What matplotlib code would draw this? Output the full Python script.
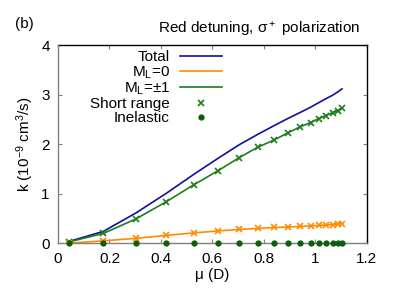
import matplotlib
matplotlib.use("Agg")
import matplotlib.pyplot as plt

plt.rcParams['font.family'] = ['Liberation Sans', 'DejaVu Sans']
plt.rcParams['mathtext.fontset'] = 'custom'
plt.rcParams['mathtext.rm'] = 'Liberation Sans'
plt.rcParams['mathtext.it'] = 'Liberation Sans:italic'
plt.rcParams['font.size'] = 11

# dipole moment (D)
mu = [0.044, 0.176, 0.302, 0.421, 0.527, 0.623, 0.704, 0.776, 0.841,
      0.893, 0.940, 0.982, 1.013, 1.041, 1.067, 1.088, 1.104]
total = [0.04, 0.24, 0.61, 1.01, 1.39, 1.72, 1.99, 2.20, 2.38,
         2.52, 2.64, 2.75, 2.84, 2.92, 2.99, 3.06, 3.12]
ml_pm1 = [0.03, 0.20, 0.49, 0.84, 1.18, 1.47, 1.73, 1.94, 2.09,
          2.23, 2.35, 2.44, 2.52, 2.58, 2.64, 2.68, 2.73]
ml_0 = [0.005, 0.05, 0.10, 0.16, 0.21, 0.25, 0.28, 0.30, 0.32,
        0.33, 0.34, 0.35, 0.36, 0.37, 0.38, 0.39, 0.40]
inelastic = [0.0] * len(mu)

blue = '#10109a'
orange = '#ff8c00'
green = '#1e7d1e'
dkgreen = '#0b5e0b'

fig = plt.figure(figsize=(3.95, 2.94), dpi=100)
ax = fig.add_axes([0.1468, 0.1724, 0.7816, 0.6735])

ax.plot(mu, total, color=blue, lw=1.2, label='Total')
ax.plot(mu, ml_0, color=orange, lw=1.2, label='M$_\\mathregular{L}$=0')
ax.plot(mu, ml_pm1, color=green, lw=1.2, label='M$_\\mathregular{L}$=±1')
ax.plot(mu, ml_pm1, ls='none', marker='x', ms=4, mew=1.2, color=green, label='Short range')
ax.plot(mu, ml_0, ls='none', marker='x', ms=4, mew=1.2, color=orange)
ax.plot(mu, inelastic, ls='none', marker='o', ms=3.5, color=dkgreen, label='Inelastic', clip_on=False, zorder=5)

ax.set_xlim(0, 1.2)
ax.set_ylim(0, 4)
ax.set_xticks([0, 0.2, 0.4, 0.6, 0.8, 1.0, 1.2])
ax.set_xticklabels(['0', '0.2', '0.4', '0.6', '0.8', '1', '1.2'])
ax.set_yticks([0, 1, 2, 3, 4])
ax.tick_params(direction='in', top=True, right=True, length=3, width=0.8,
               color='#808080', labelsize=11, pad=6)
for s in ['top', 'right']:
    ax.spines[s].set_color('black')
for s in ['left', 'bottom']:
    ax.spines[s].set_color('#808080')
    ax.spines[s].set_zorder(4)
for s in ax.spines.values():
    s.set_linewidth(1.0)

ax.set_xlabel('μ (D)', fontsize=11, labelpad=2)
ax.set_ylabel('k (10$^{-9}$ cm$^3$/s)', fontsize=11, labelpad=4)

ax.legend(loc='upper right', bbox_to_anchor=(0.531, 0.975), frameon=False,
          markerfirst=False, handlelength=2.75, handletextpad=0.65,
          labelspacing=0.0, fontsize=11, borderaxespad=0, borderpad=0)

fig.text(0.911, 0.898, 'Red detuning, σ$^+$ polarization', ha='right', va='center', fontsize=11)
fig.text(0.038, 0.918, '(b)', ha='left', va='center', fontsize=11)

fig.savefig('out.png', dpi=100)
